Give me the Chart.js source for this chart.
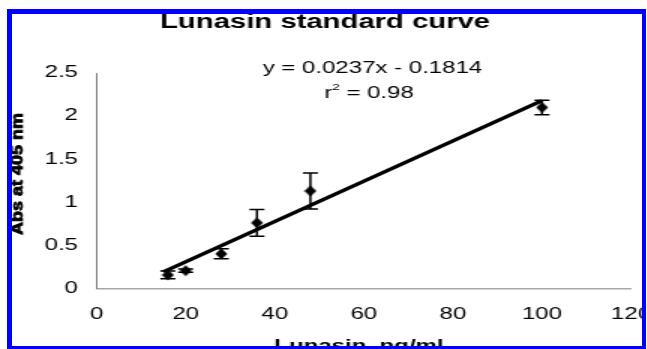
<!DOCTYPE html>
<html>
<head>
<meta charset="utf-8">
<script src="https://cdn.jsdelivr.net/npm/chart.js@4/dist/chart.umd.min.js"></script>
<style>
  html, body { margin:0; padding:0; background:#fff; overflow:hidden; width:647px; height:349px; }
  #wrap { position:relative; width:647px; height:349px; overflow:hidden; background:#fff; }
  #c { position:absolute; left:0; top:0; transform:scaleX(1.5); transform-origin:0 0; }
  #frame { position:absolute; left:7px; top:9px; width:630px; height:332px;
           border-left:5px solid #0000ff; border-top:5px solid #0000ff;
           border-right:4px solid #0000ff; border-bottom:3px solid #0000ff;
           box-shadow:0 0 0 40px #fff; pointer-events:none; }
</style>
</head>
<body>
<div id="wrap">
  <canvas id="c" width="452" height="349"></canvas>
  <div id="frame"></div>
</div>
<script>
// ---- data ----
const concentration = [16, 20, 28, 36, 48, 100];          // Lunasin, ng/ml
const absorbance    = [0.155, 0.205, 0.40, 0.76, 1.13, 2.10]; // Abs at 405 nm
const errorSize     = [0.045, 0.02, 0.058, 0.155, 0.21, 0.085];
const trendX = [15, 100];
const trendY = [0.19, 2.18];
const xTicks = [0, 20, 40, 60, 80, 100, 120];
const yTicks = [0, 0.5, 1, 1.5, 2, 2.5];
const chartTitle = 'Lunasin standard curve';
const xTitle = 'Lunasin, ng/ml';
const yTitle = 'Abs at 405 nm';
const equationText = 'y = 0.0237x - 0.1814';
const r2Value = '0.98';

const FONT = '"Liberation Sans", Arial, Helvetica, sans-serif';
Chart.defaults.font.family = FONT;
Chart.defaults.color = '#000';

// diamond marker
const diamond = document.createElement('canvas');
diamond.width = 9; diamond.height = 12;
(function(){
  const g = diamond.getContext('2d');
  g.fillStyle = '#000';
  g.beginPath();
  g.moveTo(4.5, 0.5); g.lineTo(8.5, 6); g.lineTo(4.5, 11.5); g.lineTo(0.5, 6);
  g.closePath(); g.fill();
})();

const errorBars = {
  id: 'errorBars',
  beforeDatasetsDraw(chart) {
    const {ctx, scales:{x, y}} = chart;
    ctx.save();
    ctx.strokeStyle = '#000';
    ctx.lineWidth = 1.5;
    concentration.forEach((c, i) => {
      const px = x.getPixelForValue(c);
      const top = y.getPixelForValue(absorbance[i] + errorSize[i]);
      const bot = y.getPixelForValue(absorbance[i] - errorSize[i]);
      ctx.beginPath();
      ctx.moveTo(px, top); ctx.lineTo(px, bot);
      ctx.moveTo(px - 5, top); ctx.lineTo(px + 5, top);
      ctx.moveTo(px - 5, bot); ctx.lineTo(px + 5, bot);
      ctx.stroke();
    });
    ctx.restore();
  }
};

const texts = {
  id: 'texts',
  afterDraw(chart) {
    const ctx = chart.ctx;
    ctx.save();
    ctx.fillStyle = '#000';
    ctx.strokeStyle = '#000';
    ctx.textBaseline = 'alphabetic';
    // title
    ctx.font = 'bold 19.5px ' + FONT;
    ctx.textAlign = 'center';
    ctx.fillText(chartTitle, 216.7, 28);
    // equation
    ctx.font = '16px ' + FONT;
    ctx.fillText(equationText, 248.3, 73.3);
    // r^2 line
    const pre = 'r', sup = '2', post = ' = ' + r2Value;
    ctx.font = '16px ' + FONT; const wPre = ctx.measureText(pre).width, wPost = ctx.measureText(post).width;
    ctx.font = '9px ' + FONT; const wSup = ctx.measureText(sup).width;
    let sx = 246 - (wPre + wSup + wPost) / 2;
    ctx.textAlign = 'left';
    ctx.font = '16px ' + FONT; ctx.fillText(pre, sx, 97.5); sx += wPre;
    ctx.font = '9px ' + FONT; ctx.fillText(sup, sx, 89.5); sx += wSup;
    ctx.font = '16px ' + FONT; ctx.fillText(post, sx, 97.5);
    // x title
    ctx.textAlign = 'center';
    ctx.font = 'bold 16px ' + FONT;
    ctx.fillText(xTitle, 239.3, 351);
    // y title (rotated, condensed)
    ctx.translate(14.9, 174);
    ctx.rotate(-Math.PI / 2);
    ctx.font = 'bold 13px ' + FONT;
    const w = ctx.measureText(yTitle).width;
    ctx.scale(122 / w, 0.9);
    ctx.lineWidth = 0.7;
    ctx.fillText(yTitle, 0, 0);
    ctx.strokeText(yTitle, 0, 0);
    ctx.restore();
  }
};

new Chart(document.getElementById('c'), {
  type: 'scatter',
  data: {
    datasets: [
      {
        label: 'Lunasin',
        data: concentration.map((c, i) => ({x: c, y: absorbance[i]})),
        pointStyle: diamond,
        pointRadius: 5,
        pointHoverRadius: 5,
        backgroundColor: '#000',
        borderColor: '#000',
        showLine: false
      },
      {
        label: 'Linear fit',
        type: 'line',
        data: trendX.map((v, i) => ({x: v, y: trendY[i]})),
        borderColor: '#000',
        borderWidth: 3.3,
        pointRadius: 0,
        fill: false,
        tension: 0
      }
    ]
  },
  options: {
    responsive: false,
    animation: false,
    devicePixelRatio: 1,
    layout: { padding: { top: 73, right: 31.3, left: 0, bottom: 0 } },
    plugins: { legend: { display: false }, title: { display: false }, tooltip: { enabled: false } },
    scales: {
      x: {
        type: 'linear', min: 0, max: 120,
        afterBuildTicks: s => { s.ticks = xTicks.map(v => ({value: v})); },
        afterFit: s => { s.height = 60.7; },
        ticks: { font: { size: 16 }, color: '#000', padding: 17, callback: v => String(v) },
        grid: { display: false, drawTicks: false },
        border: { display: true, color: '#a8a8a8', width: 1.5 }
      },
      y: {
        type: 'linear', min: 0, max: 2.5,
        afterBuildTicks: s => { s.ticks = yTicks.map(v => ({value: v})); },
        afterFit: s => { s.width = 64.4; },
        ticks: { font: { size: 16 }, color: '#000', padding: 12.4, callback: v => String(v) },
        grid: { display: false, drawTicks: false },
        border: { display: true, color: '#7a7a7a', width: 1 }
      }
    }
  },
  plugins: [errorBars, texts]
});
</script>
</body>
</html>
